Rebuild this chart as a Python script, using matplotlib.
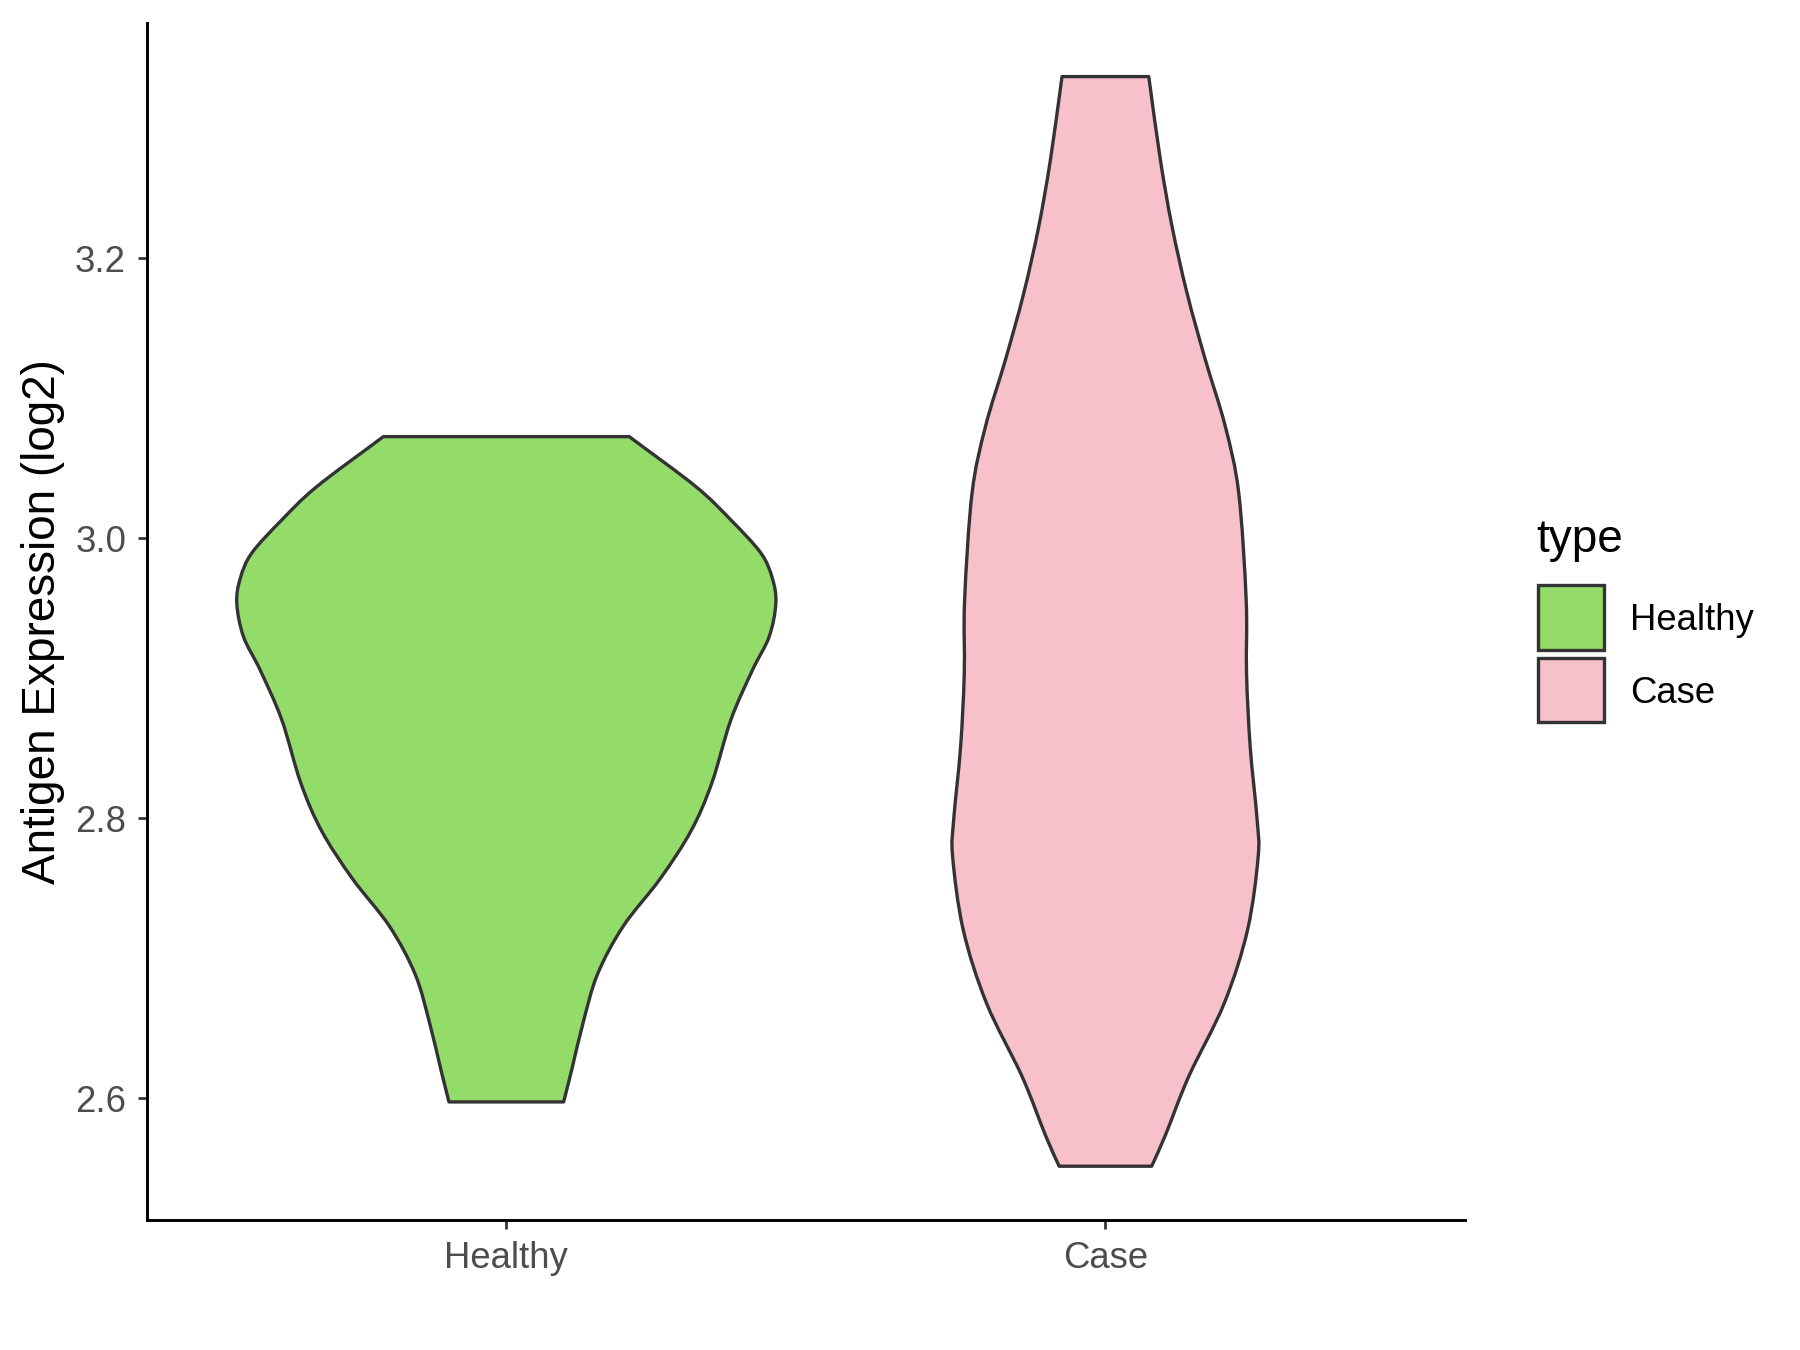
import matplotlib.pyplot as plt
import numpy as np
from matplotlib.patches import Rectangle, PathPatch
from matplotlib.path import Path

plt.rcParams['font.family'] = ['Liberation Sans', 'DejaVu Sans']

categories = ['Healthy', 'Case']
colors = ['#93DC6A', '#F7C0CB']

# violin outlines: y level and half width (category units)
healthy_y = [3.0726, 3.0369, 3.0131, 2.9894, 2.9715, 2.9537, 2.9298, 2.9060,
             2.8703, 2.8253, 2.7911, 2.7570, 2.7229, 2.6888, 2.6546, 2.6205, 2.5975]
healthy_hw = [0.2052, 0.3164, 0.3748, 0.4250, 0.4440, 0.4499, 0.4388, 0.4110,
              0.3748, 0.3431, 0.3084, 0.2570, 0.1950, 0.1523, 0.1285, 0.1092, 0.0957]

case_y = [3.3297, 3.2702, 3.2226, 3.1750, 3.1274, 3.0798, 3.0322, 2.9559,
          2.9035, 2.8512, 2.7988, 2.7726, 2.7202, 2.6679, 2.6155, 2.5736, 2.5516]
case_hw = [0.0724, 0.0918, 0.1113, 0.1363, 0.1669, 0.2002, 0.2226, 0.2350,
           0.2356, 0.2417, 0.2533, 0.2550, 0.2372, 0.1983, 0.1389, 0.1000, 0.0772]

profiles = [(healthy_y, healthy_hw), (case_y, case_hw)]


def smooth_side(pts):
    # catmull-rom through the read points, as bezier segments
    pts = np.asarray(pts)
    n = len(pts)
    tang = np.zeros_like(pts)
    tang[1:-1] = (pts[2:] - pts[:-2]) / 2
    tang[0] = pts[1] - pts[0]
    tang[-1] = pts[-1] - pts[-2]
    verts, codes = [], []
    for i in range(n - 1):
        verts += [pts[i] + tang[i] / 3, pts[i + 1] - tang[i + 1] / 3, pts[i + 1]]
        codes += [Path.CURVE4] * 3
    return verts, codes


fig = plt.figure(figsize=(12, 9), dpi=150)
ax = fig.add_axes([0.0816, 0.0961, 0.7322, 0.8869])

for i, (ys, hws) in enumerate(profiles):
    pos = i + 1
    ys = np.array(ys)
    hws = np.array(hws)
    left = np.column_stack([pos - hws, ys])            # top -> bottom
    right = np.column_stack([pos + hws, ys])[::-1]     # bottom -> top
    verts = [left[0]]
    codes = [Path.MOVETO]
    v, c = smooth_side(left)
    verts += v
    codes += c
    verts.append(right[0])
    codes.append(Path.LINETO)
    v, c = smooth_side(right)
    verts += v
    codes += c
    verts.append(left[0])
    codes.append(Path.CLOSEPOLY)
    ax.add_patch(PathPatch(Path(verts, codes), facecolor=colors[i],
                           edgecolor='#333333', linewidth=1.6, joinstyle='round'))

ax.set_xlim(0.4, 2.6)
ax.set_ylim(2.513, 3.368)
ax.set_xticks([1, 2])
ax.set_xticklabels(categories)
ax.set_yticks([2.6, 2.8, 3.0, 3.2])
ax.set_yticklabels(['2.6', '2.8', '3.0', '3.2'])

for s in ['top', 'right']:
    ax.spines[s].set_visible(False)
for s in ['left', 'bottom']:
    ax.spines[s].set_linewidth(1.4)
    ax.spines[s].set_color('black')

ax.tick_params(length=4.5, width=1.3, color='#333333', labelcolor='#4D4D4D',
               labelsize=17.5, pad=5.5)
ax.set_ylabel('Antigen Expression (log2)', fontsize=22, color='black', labelpad=5)

# legend drawn by hand, ggplot style
fig.text(0.8533, 0.6003, 'type', fontsize=22, va='center', ha='left')
leg_y = [0.5187, 0.4651]
for i, name in enumerate(categories):
    fig.patches.append(Rectangle((0.8546, leg_y[i]), 0.0364, 0.0476,
                                 transform=fig.transFigure, facecolor=colors[i],
                                 edgecolor='#333333', linewidth=1.6))
    fig.text(0.9056, leg_y[i] + 0.0215, name, fontsize=17.5, va='center', ha='left')

fig.savefig('out.png', dpi=150)
